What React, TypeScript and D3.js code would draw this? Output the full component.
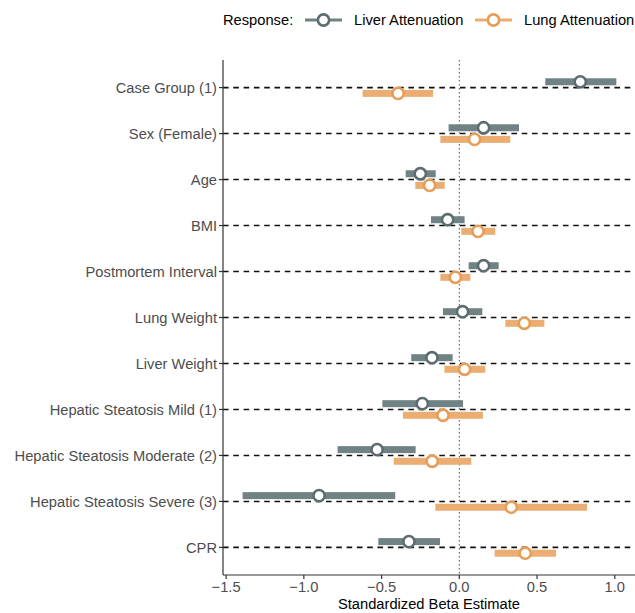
import React from 'react';
import * as d3 from 'd3';

const terms = [
  'Case Group (1)', 'Sex (Female)', 'Age', 'BMI', 'Postmortem Interval', 'Lung Weight',
  'Liver Weight', 'Hepatic Steatosis Mild (1)', 'Hepatic Steatosis Moderate (2)',
  'Hepatic Steatosis Severe (3)', 'CPR'
];

// liver attenuation: estimate, lower, upper
const liverEst = [0.778, 0.156, -0.251, -0.075, 0.156, 0.021, -0.176, -0.238, -0.529, -0.902, -0.324];
const liverLo = [0.553, -0.069, -0.345, -0.182, 0.06, -0.105, -0.309, -0.495, -0.783, -1.394, -0.521];
const liverHi = [1.01, 0.384, -0.152, 0.034, 0.253, 0.148, -0.043, 0.024, -0.281, -0.412, -0.124];

// lung attenuation
const lungEst = [-0.394, 0.098, -0.191, 0.12, -0.026, 0.418, 0.034, -0.105, -0.174, 0.334, 0.424];
const lungLo = [-0.622, -0.122, -0.283, 0.013, -0.122, 0.296, -0.096, -0.362, -0.422, -0.154, 0.227];
const lungHi = [-0.169, 0.328, -0.094, 0.231, 0.071, 0.547, 0.167, 0.152, 0.077, 0.821, 0.622];

const xTicks = [-1.5, -1.0, -0.5, 0.0, 0.5, 1.0];

const W = 635, H = 613;
const left = 223, top = 60, bottom = 575;
const font = 'Liberation Sans, Arial, sans-serif';
const fs = 14.7;

const series = [
  {name: 'Liver Attenuation', est: liverEst, lo: liverLo, hi: liverHi, bar: '#718284', stroke: '#5c6d70', dy: -5.8},
  {name: 'Lung Attenuation', est: lungEst, lo: lungLo, hi: lungHi, bar: '#ebad72', stroke: '#e89c58', dy: 5.8}
];

export default function App() {
  const x = d3.scaleLinear().domain([-1.52, 1.13]).range([left, W]);
  const y = d3.scalePoint<string>().domain(terms).range([top, bottom]).padding(0.6);

  return (
    <svg width={W} height={H} style={{position: 'absolute', left: 0, top: 0, background: '#fff'}}
         fontFamily={font}>
      {/* dashed row lines */}
      {terms.map(t => (
        <line key={t} x1={left} x2={W} y1={y(t)} y2={y(t)} stroke="#111"
              strokeWidth={1.6} strokeDasharray="5.6,4.7" />
      ))}
      {/* zero line */}
      <line x1={x(0)} x2={x(0)} y1={top} y2={bottom} stroke="#555" strokeWidth={1}
            strokeDasharray="1.5,2.5" />

      {/* intervals + points */}
      {series.map(s => (
        <g key={s.name}>
          {terms.map((t, i) => (
            <rect key={t} x={x(s.lo[i])} width={x(s.hi[i]) - x(s.lo[i])}
                  y={(y(t) as number) + s.dy - 3.5} height={7} fill={s.bar} />
          ))}
          {terms.map((t, i) => (
            <circle key={t} cx={x(s.est[i])} cy={(y(t) as number) + s.dy} r={5.6}
                    fill="#fff" stroke={s.stroke} strokeWidth={2.6} />
          ))}
        </g>
      ))}

      {/* axes */}
      <line x1={left} x2={left} y1={top} y2={bottom} stroke="#333" strokeWidth={1.2} />
      <line x1={left} x2={W} y1={bottom} y2={bottom} stroke="#333" strokeWidth={1.2} />
      {terms.map(t => (
        <g key={t}>
          <line x1={left - 4} x2={left} y1={y(t)} y2={y(t)} stroke="#333" strokeWidth={1.2} />
          <text x={left - 6} y={y(t)} dy="0.35em" textAnchor="end" fontSize={fs} fill="#4d4d4d">{t}</text>
        </g>
      ))}
      {xTicks.map(v => (
        <g key={v}>
          <line x1={x(v)} x2={x(v)} y1={bottom} y2={bottom + 4} stroke="#333" strokeWidth={1.2} />
          <text x={x(v)} y={587} dy="0.35em" textAnchor="middle" fontSize={fs} fill="#4d4d4d">
            {d3.format('.1f')(v)}
          </text>
        </g>
      ))}
      <text x={(left + W) / 2} y={604} dy="0.35em" textAnchor="middle" fontSize={fs} fill="#000">
        Standardized Beta Estimate
      </text>

      {/* legend */}
      <text x={223} y={20} dy="0.35em" fontSize={fs} fill="#000">Response:</text>
      {series.map((s, i) => {
        const kx = i === 0 ? 305 : 475;
        return (
          <g key={s.name}>
            <line x1={kx} x2={kx + 37} y1={20} y2={20} stroke={s.bar} strokeWidth={3} />
            <circle cx={kx + 18.5} cy={20} r={5.6} fill="#fff" stroke={s.stroke} strokeWidth={2.6} />
            <text x={kx + 49} y={20} dy="0.35em" fontSize={fs} fill="#000">{s.name}</text>
          </g>
        );
      })}
    </svg>
  );
}
